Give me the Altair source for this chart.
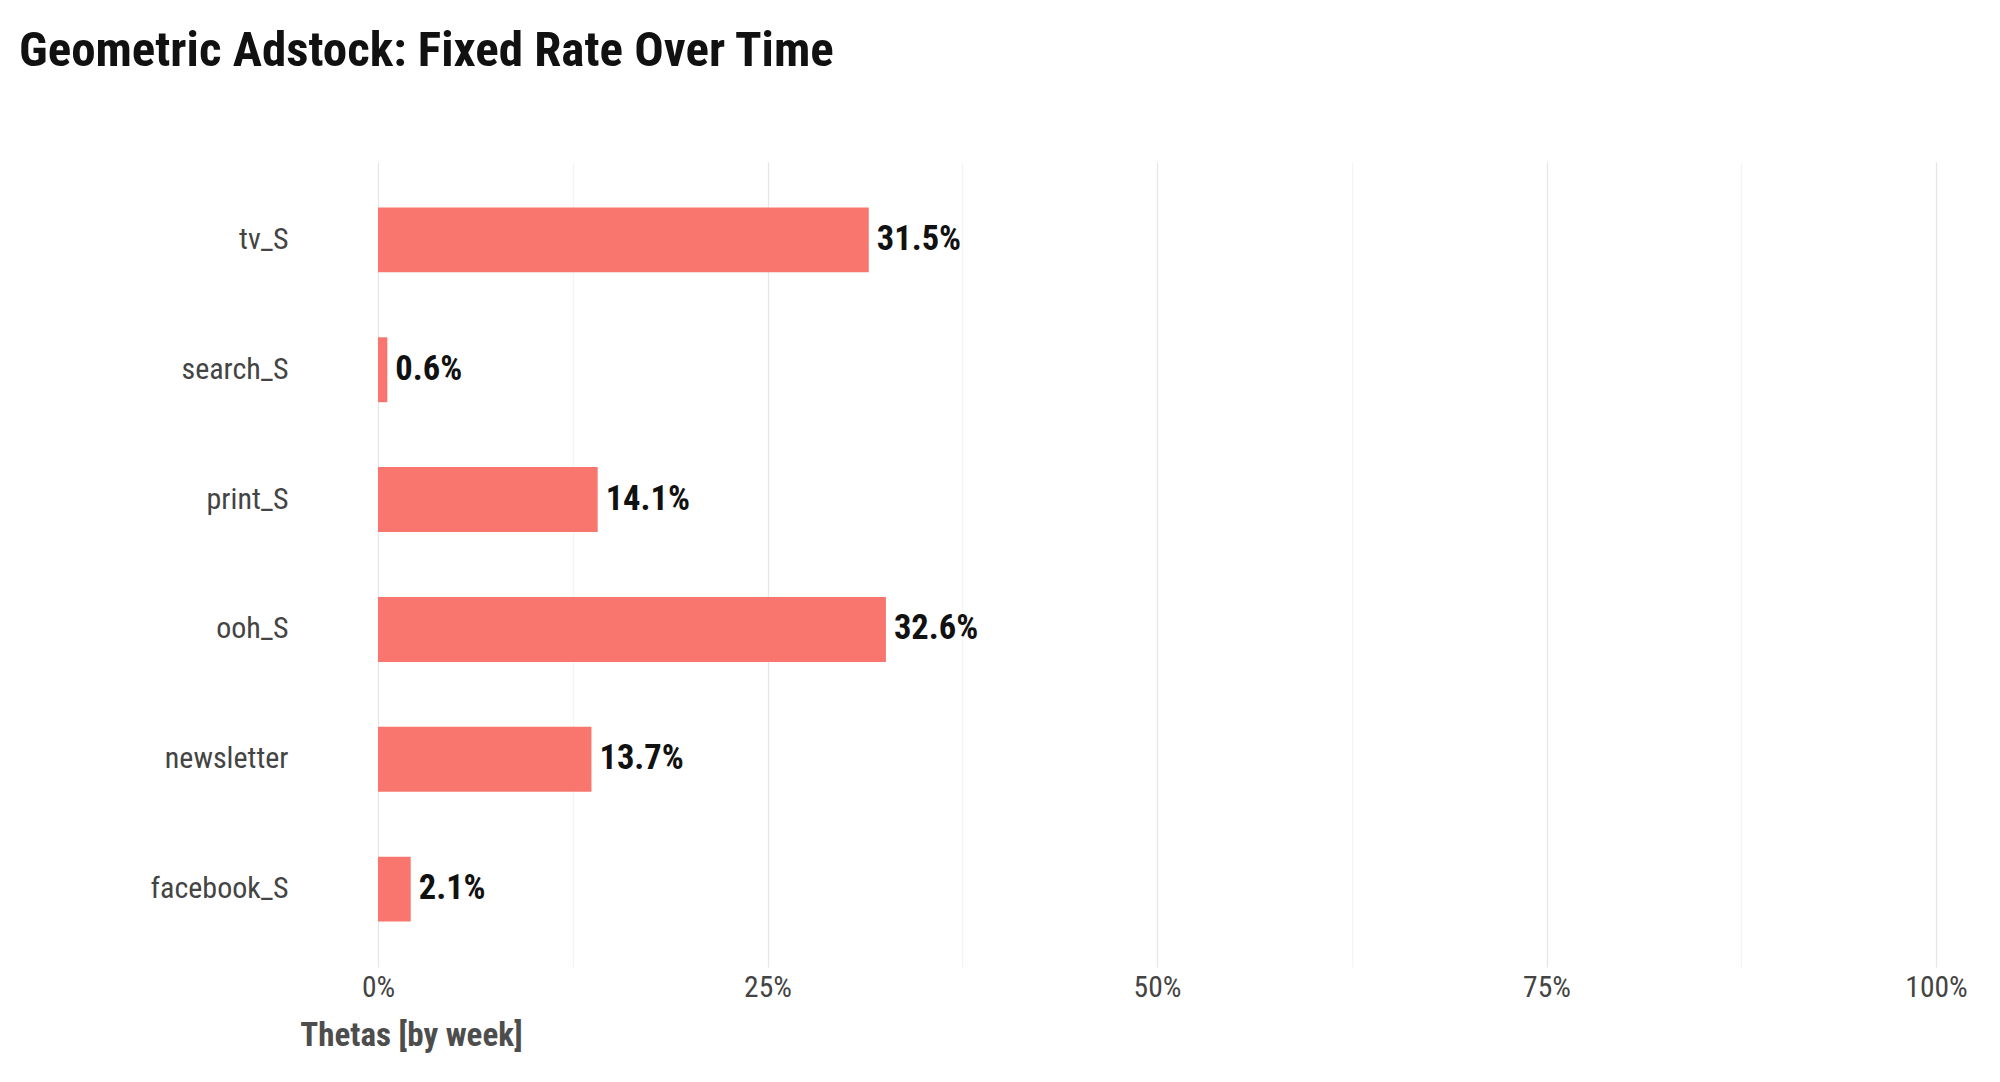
import altair as alt
import pandas as pd

channels = ["tv_S", "search_S", "print_S", "ooh_S", "newsletter", "facebook_S"]
thetas = [0.315, 0.006, 0.141, 0.326, 0.137, 0.021]
x_ticks = [0, 0.125, 0.25, 0.375, 0.5, 0.625, 0.75, 0.875, 1.0]

df = pd.DataFrame({"channel": channels, "theta": thetas})

FONT = "Roboto Condensed, Liberation Sans Narrow, sans-serif"

y_enc = alt.Y(
    "channel:N",
    sort=channels,
    title=None,
    scale=alt.Scale(paddingInner=0.5, paddingOuter=0.35),
    axis=alt.Axis(
        ticks=False, tickSize=0, domain=False, grid=False,
        labelFont=FONT, labelFontSize=30, labelFontWeight=400, labelColor="#444444",
        labelPadding=90,
    ),
)

x_enc = alt.X(
    "theta:Q",
    title="Thetas [by week]",
    scale=alt.Scale(domain=[0, 1], nice=False, zero=True),
    axis=alt.Axis(
        values=x_ticks,
        labelExpr="(datum.value * 4) % 1 == 0 ? format(datum.value, '.0%') : ''",
        ticks=False, tickSize=0, domain=False, labelFlush=False,
        grid=True,
        gridColor={"condition": {"test": "(datum.value * 4) % 1 == 0", "value": "#e6e6e6"}, "value": "#f4f4f4"},
        gridWidth=1.3,
        labelFont=FONT, labelFontSize=29.5, labelFontWeight=400, labelColor="#444444", labelPadding=6,
        titleFont=FONT, titleFontSize=33, titleFontWeight="bold", titleColor="#4d4d4d",
        titleX=33, titleY=68, titleAlign="center", titleBaseline="middle",
        titleAnchor="start",
    ),
)

bars = alt.Chart(df).mark_bar(color="#F8766D").encode(x=x_enc, y=y_enc)

labels = alt.Chart(df).mark_text(
    align="left", baseline="middle", dx=8,
    font=FONT, fontSize=34.5, fontWeight="bold", color="#111111",
).encode(
    x=alt.X("theta:Q"),
    y=alt.Y("channel:N", sort=channels),
    text=alt.Text("theta:Q", format=".1%"),
)

chart = alt.layer(bars, labels).properties(
    width=1558,
    height=805,
    title=alt.TitleParams(
        "Geometric Adstock: Fixed Rate Over Time",
        anchor="start", frame="group", font=FONT, fontSize=49, fontWeight="bold", color="#111111",
        dx=-359, offset=86,
    ),
    autosize=alt.AutoSizeParams(type="none"),
    padding={"left": 370, "top": 154, "right": 56, "bottom": 100},
).configure(background="white", view=alt.ViewConfig(stroke=None))

chart.save("out.html", embed_options={"renderer": "svg", "actions": False})
